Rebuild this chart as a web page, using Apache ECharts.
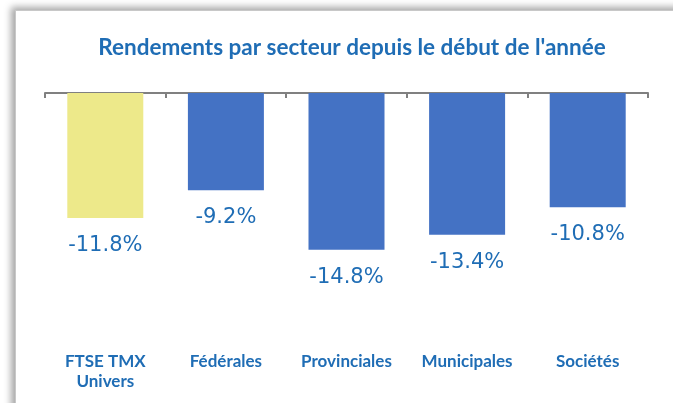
<!DOCTYPE html>
<html>
<head>
<meta charset="utf-8">
<script src="https://cdn.jsdelivr.net/npm/echarts@6/dist/echarts.min.js"></script>
<style>
  html, body { margin: 0; padding: 0; background: #fff; overflow: hidden; }
  #frame {
    position: absolute; left: 15px; top: 10px; width: 700px; height: 430px;
    border-left: 1px solid #c8c8c8; border-top: 1px solid #c8c8c8;
    box-shadow: -4px -3px 7px rgba(0,0,0,0.35);
    background: #fff;
  }
  #chart { position: absolute; left: 0; top: 0; width: 673px; height: 403px; }
</style>
</head>
<body>
<div id="frame"></div>
<div id="chart"></div>
<script>
  // données
  var categories = ['FTSE TMX\nUnivers', 'Fédérales', 'Provinciales', 'Municipales', 'Sociétés'];
  var returns = [-11.8, -9.2, -14.8, -13.4, -10.8];
  var barColors = ['#ede98a', '#4472c4', '#4472c4', '#4472c4', '#4472c4'];

  var mychart = echarts.init(document.getElementById('chart'));
  var option = {
    title: {
      text: "Rendements par secteur depuis le début de l'année",
      left: 347,
      textAlign: 'center',
      top: 31,
      textStyle: {
        color: '#1f6db5',
        fontFamily: 'Lato',
        fontWeight: 'bold',
        fontSize: 22.5
      }
    },
    grid: { left: 45, right: 25, top: 93, height: 254 },
    xAxis: [{
      type: 'category',
      position: 'top',
      data: categories,
      axisLine: { lineStyle: { color: '#808080', width: 2 } },
      axisTick: { show: true, alignWithLabel: false, inside: true, length: 5, lineStyle: { color: '#808080', width: 2 } },
      axisLabel: { show: false }
    }, {
      type: 'category',
      position: 'bottom',
      data: categories,
      axisLine: { show: false },
      axisTick: { show: false },
      axisLabel: {
        margin: 5,
        color: '#1f6db5',
        fontFamily: 'Lato',
        fontWeight: 'bold',
        fontSize: 17,
        lineHeight: 20
      }
    }],
    yAxis: {
      type: 'value',
      min: -24,
      max: 0,
      show: false,
      splitLine: { show: false }
    },
    series: [{
      type: 'bar',
      xAxisIndex: 0,
      barWidth: 76,
      data: returns.map(function (v, i) {
        return { value: v, itemStyle: { color: barColors[i] } };
      }),
      label: {
        show: true,
        position: 'bottom',
        distance: 17,
        color: '#1f6db5',
        fontFamily: 'DejaVu Sans',
        fontSize: 21,
        formatter: function (p) { return p.value.toFixed(1) + '%'; }
      }
    }]
  };
  mychart.setOption(option);
</script>
</body>
</html>
